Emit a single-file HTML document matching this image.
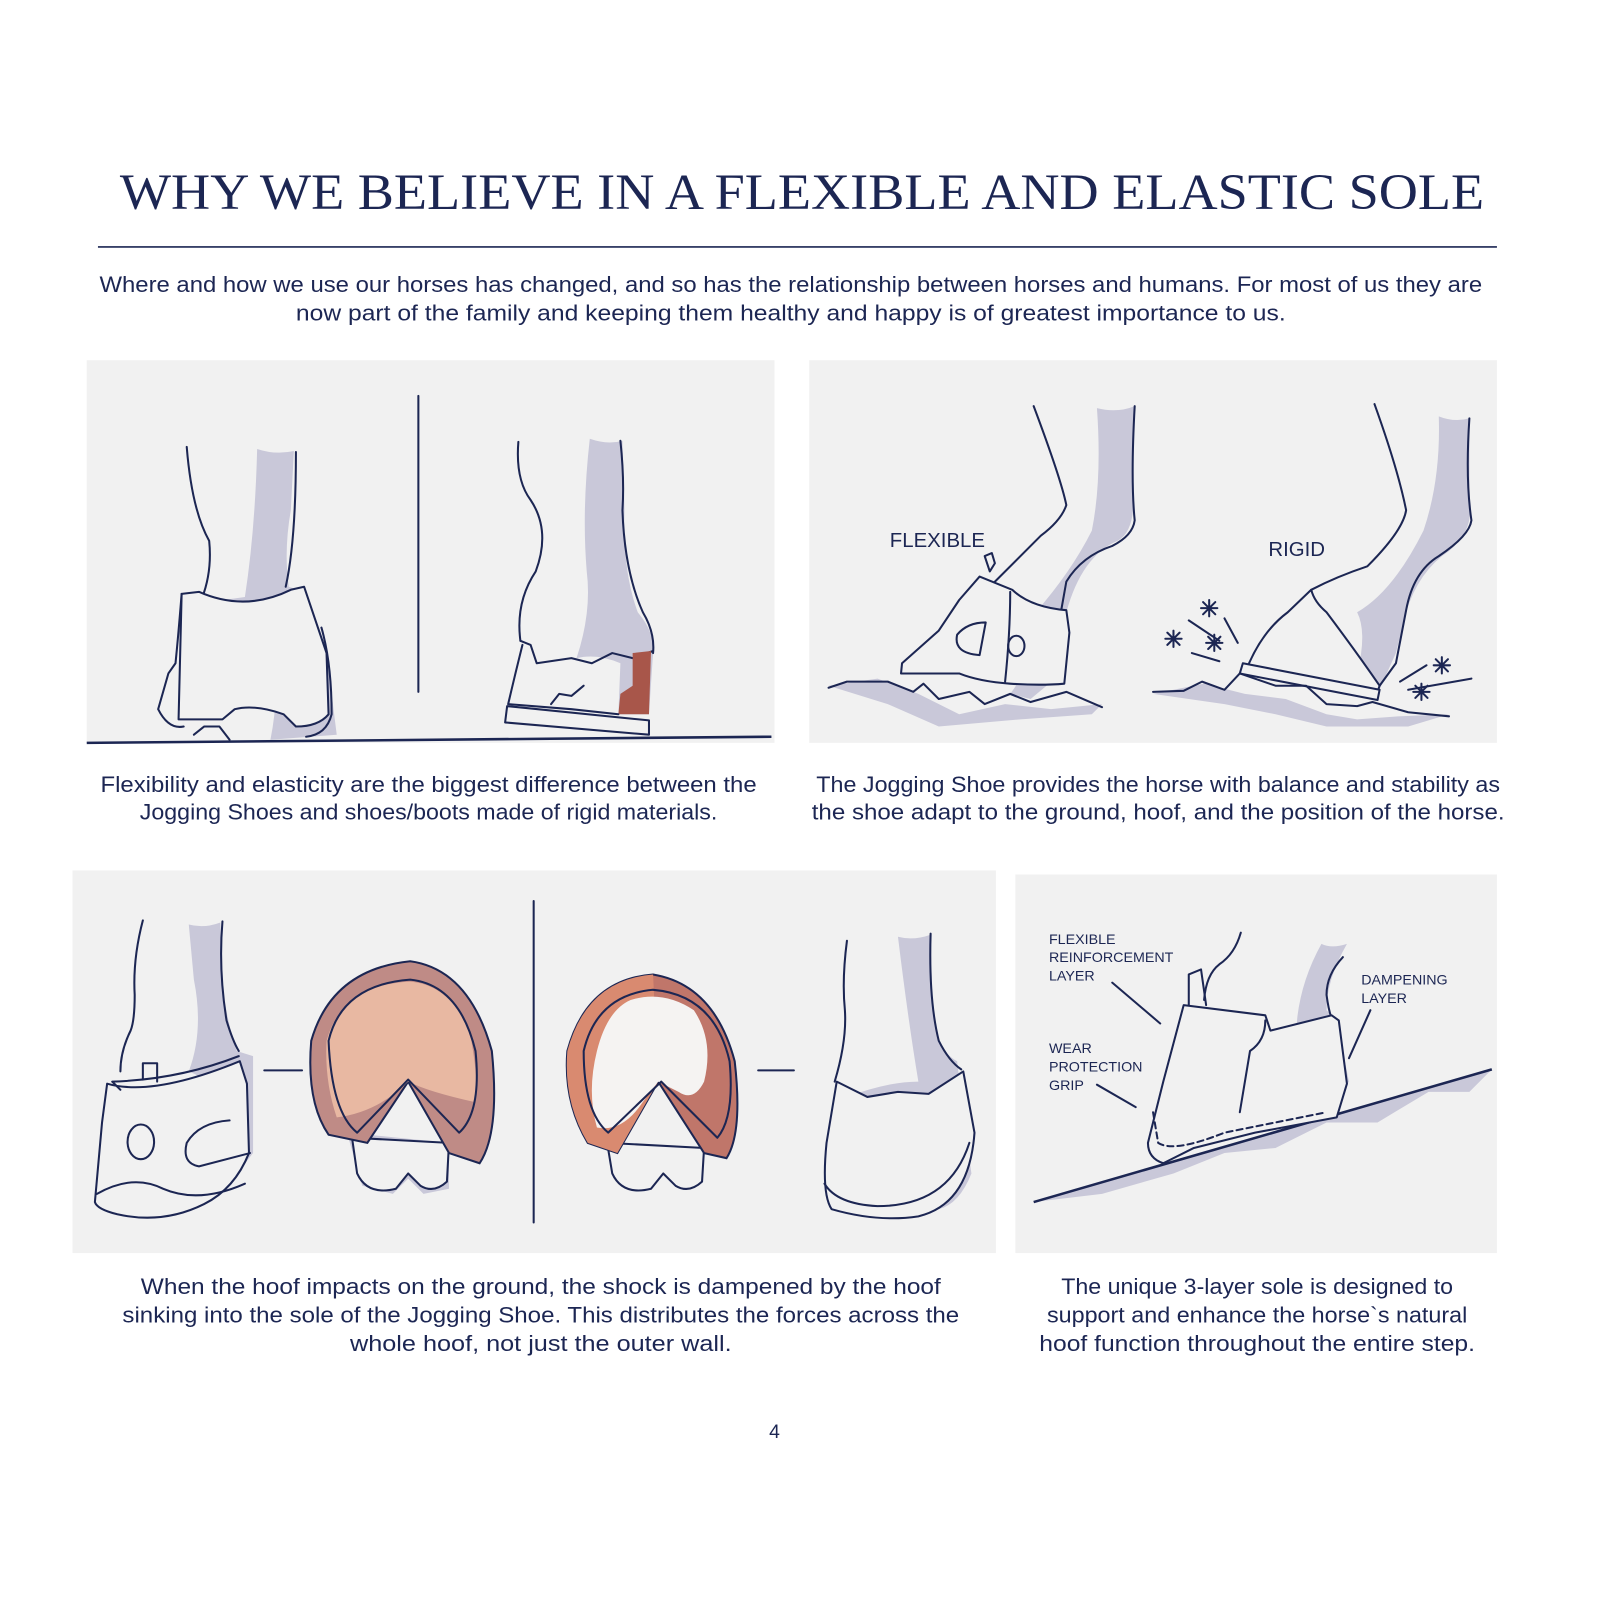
<!DOCTYPE html>
<html><head><meta charset="utf-8"><style>
html,body{margin:0;padding:0;background:#fff;width:1600px;height:1600px;overflow:hidden}
svg{display:block}
text{fill:#1c2653;font-family:"Liberation Sans",sans-serif}
.o{fill:none;stroke:#1c2653;stroke-width:2;stroke-linejoin:round;stroke-linecap:round}
.w{fill:#f1f1f1;stroke:#1c2653;stroke-width:2;stroke-linejoin:round}
.s{fill:#c9c8d9;stroke:none}
</style></head><body>
<svg width="1600" height="1600" viewBox="0 0 1568 1568" xmlns="http://www.w3.org/2000/svg">
<rect width="1568" height="1568" fill="#fff"/>
<text x="786" y="205" text-anchor="middle" style="font-family:'Liberation Serif',serif" font-size="50" textLength="1337" lengthAdjust="spacingAndGlyphs">WHY WE BELIEVE IN A FLEXIBLE AND ELASTIC SOLE</text>
<line x1="96" y1="242" x2="1467" y2="242" stroke="#1c2653" stroke-width="1.5"/>
<text x="775" y="286" text-anchor="middle" font-size="22" textLength="1355" lengthAdjust="spacingAndGlyphs">Where and how we use our horses has changed, and so has the relationship between horses and humans. For most of us they are</text>
<text x="775" y="314" text-anchor="middle" font-size="22" textLength="970" lengthAdjust="spacingAndGlyphs">now part of the family and keeping them healthy and happy is of greatest importance to us.</text>

<!-- panels -->
<rect x="85" y="353" width="674" height="375" fill="#f1f1f1"/>
<rect x="793" y="353" width="674" height="375" fill="#f1f1f1"/>
<rect x="71" y="853" width="905" height="375" fill="#f1f1f1"/>
<rect x="995" y="857" width="472" height="371" fill="#f1f1f1"/>

<!-- Panel 1 -->
<line x1="410" y1="388" x2="410" y2="678" class="o"/>
<path class="s" d="M252 440 Q270 446 288 442 L285 500 Q278 540 283 575 L298 580 L320 640 L330 720 L265 725 Q280 650 250 620 Q220 600 205 590 L240 585 Q250 520 252 440Z"/>
<path class="o" d="M183 438 Q188 500 205 530 Q208 560 198 586"/>
<path class="o" d="M290 443 Q290 530 280 575"/>
<path class="w" d="M178 582 L195 580 Q240 600 285 578 L298 575 L320 640 L322 700 Q312 712 290 712 L278 700 Q250 690 230 695 L218 705 L175 705 Z"/>
<path class="o" d="M178 582 Q175 620 172 650 L165 660 L155 695 Q165 715 180 712"/>
<path class="o" d="M315 615 Q325 650 325 700 Q320 720 300 722"/>
<path class="o" d="M190 720 L200 712 L215 712 L225 725"/>
<path class="s" d="M578 430 Q595 436 610 432 L612 500 Q610 560 625 600 Q642 620 640 640 L636 700 L606 700 L608 650 Q585 640 565 645 Q580 600 575 560 Q570 500 578 430Z"/>
<path class="o" d="M508 433 Q505 470 520 490 Q540 520 525 560 Q505 590 510 628"/>
<path class="o" d="M608 432 Q612 470 610 500 Q612 560 630 600 Q642 620 640 640"/>
<path class="o" d="M510 628 L520 632 L526 650 L560 645 L580 650 L600 640 L620 645 L640 638"/>
<path d="M620 640 L638 638 L636 700 L606 700 L608 680 L620 672Z" fill="#a8564a"/>
<path class="o" d="M512 632 Q505 660 498 690 L560 695 L606 700"/>
<path class="o" d="M540 690 L548 680 L560 682 L572 672"/>
<path class="w" d="M497 692 L636 706 L636 720 L495 708 Z"/>
<line x1="85" y1="728" x2="756" y2="722" stroke="#1c2653" stroke-width="2.5"/>

<!-- Panel 2 -->
<path class="s" d="M1075 400 Q1095 405 1112 398 L1110 470 Q1115 520 1095 530 Q1060 545 1045 600 L1040 660 L1010 685 L990 680 Q1020 640 1015 600 Q1050 560 1070 520 Q1080 470 1075 400Z"/>
<path class="o" d="M1013 398 Q1040 470 1045 495 Q1040 510 1020 525 Q1000 545 970 575"/>
<path class="o" d="M1112 398 Q1108 470 1112 510 Q1110 525 1090 535 Q1060 545 1045 570 L1040 598"/>
<path class="w" d="M960 565 L992 578 Q1010 595 1045 598 L1048 620 L1043 670 Q1020 672 990 670 Q960 668 940 660 L883 660 L884 650 L920 618 L940 588 Z"/>
<path class="o" d="M965 545 L970 560 L975 552 L972 542 Z"/>
<ellipse cx="996" cy="633" rx="8" ry="10" class="o"/>
<path class="o" d="M966 610 Q948 610 938 622 Q934 640 960 642 Z"/>
<path class="o" d="M990 580 Q990 620 985 668"/>
<path class="s" d="M812 672 L860 665 L900 680 L940 700 L985 690 L1030 695 L1080 690 L1070 700 L1000 705 L920 712 L870 690 Z"/>
<path class="o" d="M812 674 L830 668 L870 668 L895 678 L905 670 L920 685 L950 678 L965 690 L990 680 L1010 688 L1045 678 L1080 693"/>
<path class="s" d="M1410 408 Q1425 414 1440 410 L1440 490 Q1445 520 1420 540 Q1390 560 1378 600 L1368 640 L1350 680 L1330 660 Q1340 620 1330 600 Q1365 580 1395 520 Q1412 470 1410 408Z"/>
<path class="o" d="M1347 396 Q1370 460 1378 500 Q1375 520 1340 555 Q1310 565 1285 578"/>
<path class="o" d="M1440 410 Q1436 470 1442 510 Q1440 525 1410 545 Q1385 560 1378 598 L1368 650 L1352 672"/>
<path class="w" d="M1285 578 Q1288 590 1300 600 Q1330 640 1352 672 L1348 684 L1220 660 Q1235 620 1262 600 Z"/>
<path class="w" d="M1218 650 L1352 676 L1350 686 L1215 660 Z"/>
<path class="s" d="M1130 680 L1180 670 L1220 680 L1260 685 L1300 700 L1330 705 L1370 702 L1420 700 L1380 712 L1300 712 L1250 700 L1200 690 Z"/>
<path class="o" d="M1130 678 L1160 677 L1178 668 L1200 676 L1215 660 L1250 672 L1280 672 L1300 690 L1330 692 L1345 688 L1380 698 L1420 702"/>
<g class="o">
<path d="M1185 588 L1185 604 M1177 596 L1193 596 M1179 590 L1191 602 M1191 590 L1179 602"/>
<path d="M1150 618 L1150 634 M1142 626 L1158 626 M1144 620 L1156 632 M1156 620 L1144 632"/>
<path d="M1190 622 L1190 638 M1182 630 L1198 630 M1184 624 L1196 636 M1196 624 L1184 636"/>
<path d="M1413 644 L1413 660 M1405 652 L1421 652 M1407 646 L1419 658 M1419 646 L1407 658"/>
<path d="M1393 670 L1393 686 M1385 678 L1401 678 M1387 672 L1399 684 M1399 672 L1387 684"/>
<line x1="1165" y1="608" x2="1195" y2="628"/><line x1="1200" y1="606" x2="1213" y2="630"/><line x1="1168" y1="640" x2="1195" y2="648"/>
<line x1="1372" y1="668" x2="1398" y2="652"/><line x1="1380" y1="676" x2="1442" y2="665"/>
</g>
<text x="872" y="536" font-size="20">FLEXIBLE</text>
<text x="1243" y="545" font-size="20">RIGID</text>

<text x="420" y="776" text-anchor="middle" font-size="22" textLength="643" lengthAdjust="spacingAndGlyphs">Flexibility and elasticity are the biggest difference between the</text>
<text x="420" y="803" text-anchor="middle" font-size="22" textLength="566" lengthAdjust="spacingAndGlyphs">Jogging Shoes and shoes/boots made of rigid materials.</text>
<text x="1135" y="776" text-anchor="middle" font-size="22" textLength="670" lengthAdjust="spacingAndGlyphs">The Jogging Shoe provides the horse with balance and stability as</text>
<text x="1135" y="803" text-anchor="middle" font-size="22" textLength="679" lengthAdjust="spacingAndGlyphs">the shoe adapt to the ground, hoof, and the position of the horse.</text>

<!-- Panel 3 -->
<line x1="523" y1="883" x2="523" y2="1198" class="o"/>
<line x1="259" y1="1049" x2="296" y2="1049" class="o"/>
<line x1="743" y1="1049" x2="778" y2="1049" class="o"/>
<path class="s" d="M185 906 Q200 910 216 904 L218 970 Q225 1010 232 1030 L248 1035 L248 1130 L225 1160 L205 1175 Q230 1120 220 1080 Q210 1060 185 1050 Q200 1010 190 960 Z"/>
<path class="o" d="M140 902 Q130 940 132 975 Q132 1000 128 1010 Q118 1030 118 1050"/>
<path class="o" d="M218 903 Q214 950 222 1000 Q228 1020 234 1030"/>
<path class="w" d="M105 1062 Q150 1075 235 1040 L242 1062 L244 1130 Q230 1165 200 1180 Q160 1200 115 1190 Q95 1185 93 1178 L100 1100 Z"/>
<path class="o" d="M118 1068 L110 1060 Q175 1058 234 1035"/>
<path class="o" d="M140 1058 L140 1042 L154 1042 L154 1060"/>
<ellipse cx="138" cy="1119" rx="13" ry="17" class="o"/>
<path class="o" d="M225 1098 Q195 1100 183 1120 Q178 1140 195 1143 L245 1130"/>
<path class="o" d="M95 1170 Q130 1150 160 1165 Q195 1180 240 1160"/>
<path class="s" d="M340 1110 L440 1120 L440 1165 L415 1170 L400 1155 L385 1170 L355 1162 Z"/>
<path class="w" d="M345 1115 L440 1120 L438 1158 Q425 1170 412 1162 L400 1150 L388 1165 Q360 1172 350 1150 Z"/>
<path d="M402 942 Q460 950 482 1030 Q490 1110 470 1140 L440 1130 L400 1060 L360 1120 L322 1112 Q300 1080 305 1020 Q325 950 402 942Z" fill="#bf8b86" stroke="#1c2653" stroke-width="2"/>
<path d="M402 962 Q440 965 460 1010 Q470 1060 465 1080 Q420 1070 400 1060 Q370 1090 330 1095 Q318 1060 320 1020 Q335 965 402 962Z" fill="#e8b8a2"/>
<path class="o" d="M402 960 Q450 965 466 1030 Q472 1090 450 1110 L400 1058 L350 1110 Q325 1090 322 1020 Q335 965 402 960Z"/>
<path class="w" d="M595 1120 L690 1125 L688 1158 Q675 1170 662 1162 L650 1150 L638 1165 Q610 1172 600 1150 Z"/>
<path d="M640 955 Q700 965 720 1040 Q728 1110 712 1135 L690 1130 L645 1060 L605 1130 L576 1120 Q552 1080 556 1030 Q575 960 640 955Z" fill="#c0766a" stroke="#1c2653" stroke-width="2"/>
<path d="M576 1120 Q552 1080 556 1030 Q575 960 640 955 L645 1060 L605 1130Z" fill="#d98a70"/>
<path d="M618 980 Q650 970 680 990 Q700 1020 690 1060 Q680 1080 665 1070 L645 1060 L630 1080 Q610 1110 585 1105 Q575 1070 585 1030 Q595 990 618 980Z" fill="#f5f3f2"/>
<path class="o" d="M640 970 Q700 975 715 1040 Q720 1095 703 1115 L648 1060 L596 1110 Q572 1090 572 1030 Q585 975 640 970Z"/>
<path class="s" d="M880 918 Q895 922 912 916 L914 990 Q918 1030 938 1040 L945 1100 L952 1150 Q940 1180 920 1185 Q935 1140 920 1100 L830 1075 Q870 1060 900 1060 Q890 1000 880 918Z"/>
<path class="o" d="M830 922 Q825 960 828 990 Q830 1020 818 1060"/>
<path class="o" d="M912 915 Q910 980 920 1020 Q930 1040 942 1048"/>
<path class="w" d="M820 1060 L850 1075 L880 1070 L910 1072 L944 1050 L955 1110 Q950 1180 900 1192 Q860 1198 815 1185 Q805 1170 810 1120 Z"/>
<path class="o" d="M808 1160 Q820 1180 860 1182 Q930 1182 950 1120"/>

<!-- Panel 4 -->
<path class="s" d="M1013 1178 L1462 1048 L1440 1070 L1400 1070 L1350 1100 L1300 1100 L1250 1125 L1200 1130 L1150 1150 L1080 1170 Z"/>
<path class="s" d="M1295 925 Q1305 930 1320 925 Q1300 960 1300 990 L1310 1000 L1322 1060 L1300 1090 L1250 1100 Q1270 1060 1270 1020 Q1270 970 1295 925Z"/>
<line x1="1013" y1="1178" x2="1462" y2="1048" stroke="#1c2653" stroke-width="2.5"/>
<path class="o" d="M1216 914 Q1210 935 1195 945 Q1182 955 1180 980"/>
<path class="o" d="M1316 938 Q1300 955 1300 975 Q1302 990 1305 998"/>
<path class="w" d="M1160 985 L1240 995 L1245 1010 L1305 995 L1312 1000 L1320 1062 L1310 1095 L1230 1110 L1170 1125 L1140 1140 Q1125 1135 1125 1120 L1140 1060 Z"/>
<path class="o" d="M1165 985 L1165 955 L1177 950 L1182 985"/>
<path class="o" d="M1240 1000 Q1240 1020 1225 1030 L1215 1090"/>
<path class="o" d="M1130 1090 L1135 1120 Q1150 1130 1200 1110 L1300 1090" stroke-dasharray="6 4"/>
<path class="o" d="M1090 963 L1137 1003 M1075 1063 L1113 1085 M1343 990 L1322 1037"/>
<text x="1028" y="925" font-size="14">FLEXIBLE</text>
<text x="1028" y="943" font-size="14">REINFORCEMENT</text>
<text x="1028" y="961" font-size="14">LAYER</text>
<text x="1028" y="1032" font-size="14">WEAR</text>
<text x="1028" y="1050" font-size="14">PROTECTION</text>
<text x="1028" y="1068" font-size="14">GRIP</text>
<text x="1334" y="965" font-size="14">DAMPENING</text>
<text x="1334" y="983" font-size="14">LAYER</text>

<text x="530" y="1268" text-anchor="middle" font-size="22" textLength="784" lengthAdjust="spacingAndGlyphs">When the hoof impacts on the ground, the shock is dampened by the hoof</text>
<text x="530" y="1296" text-anchor="middle" font-size="22" textLength="820" lengthAdjust="spacingAndGlyphs">sinking into the sole of the Jogging Shoe. This distributes the forces across the</text>
<text x="530" y="1324" text-anchor="middle" font-size="22" textLength="374" lengthAdjust="spacingAndGlyphs">whole hoof, not just the outer wall.</text>
<text x="1232" y="1268" text-anchor="middle" font-size="22" textLength="384" lengthAdjust="spacingAndGlyphs">The unique 3-layer sole is designed to</text>
<text x="1232" y="1296" text-anchor="middle" font-size="22" textLength="412" lengthAdjust="spacingAndGlyphs">support and enhance the horse`s natural</text>
<text x="1232" y="1324" text-anchor="middle" font-size="22" textLength="427" lengthAdjust="spacingAndGlyphs">hoof function throughout the entire step.</text>
<text x="759" y="1409" text-anchor="middle" font-size="19">4</text>
</svg>
</body></html>
